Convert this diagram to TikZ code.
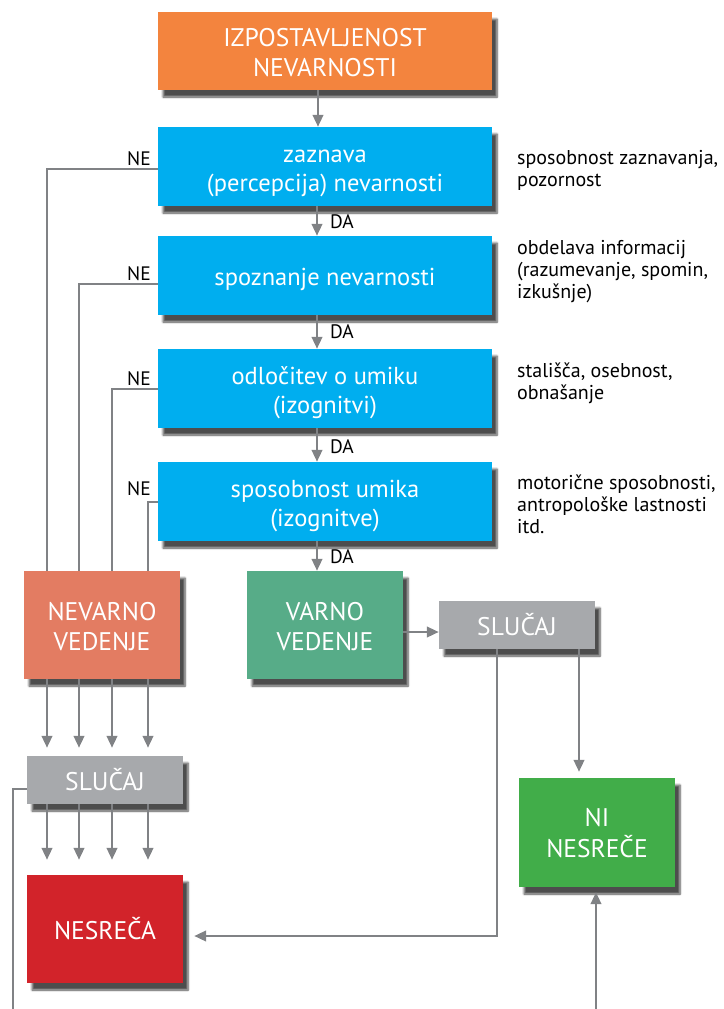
\documentclass[tikz,border=0pt]{standalone}
\usepackage{fontspec}
\setmainfont{PT Sans}
\usetikzlibrary{arrows.meta,shadows.blur}
\definecolor{cOrange}{HTML}{F3843E}
\definecolor{cBlue}{HTML}{00AEEF}
\definecolor{cSalmon}{HTML}{E37C62}
\definecolor{cTeal}{HTML}{57AC88}
\definecolor{cGrayBox}{HTML}{A7A9AC}
\definecolor{cRed}{HTML}{D2232A}
\definecolor{cGreen}{HTML}{41AD49}
\definecolor{cLine}{HTML}{808285}
% text blocks with fixed height/depth so baselines sit where the reference has them
\newcommand\boxtwo[1]{\raisebox{0pt}[56pt][6pt]{\begin{tabular}[b]{@{}c@{}}#1\end{tabular}}}
\newcommand\boxone[1]{\raisebox{0pt}[26pt][6pt]{#1}}
\begin{document}
\begin{tikzpicture}[x=1pt,y=-1pt,
  box/.style={rectangle, inner sep=0pt, text=white,
    font=\fontsize{25.5}{30}\selectfont,
    blur shadow={shadow xshift=5pt, shadow yshift=-7pt, shadow blur steps=6, shadow opacity=70}},
  widebox/.style={box, minimum width=334pt, minimum height=79pt},
  bluebox/.style={widebox, fill=cBlue, font=\fontsize{24.5}{29.5}\selectfont},
  smallbox/.style={box, minimum width=156pt},
  conn/.style={draw=cLine, line width=2.5pt},
  arr/.style={conn, -{Triangle[length=12pt,width=10.5pt]}},
  lbl/.style={font=\fontsize{19.5}{22}\selectfont, inner sep=0pt},
  side/.style={font=\fontsize{20}{22}\selectfont, inner sep=0pt, anchor=west, align=left}]
\useasboundingbox (0,0) rectangle (723,1009);

% boxes
\node[widebox, fill=cOrange, minimum height=78pt] (b0) at (325,51) {\boxtwo{IZPOSTAVLJENOST\\NEVARNOSTI}};
\node[bluebox] (b1) at (325,166.5) {\boxtwo{zaznava\\(percepcija) nevarnosti}};
\node[bluebox] (b2) at (325,275.5) {\boxone{spoznanje nevarnosti}};
\node[bluebox] (b3) at (325,388.5) {\boxtwo{odločitev o umiku\\(izognitvi)}};
\node[bluebox] (b4) at (325,501.5) {\boxtwo{sposobnost umika\\(izognitve)}};

\node[smallbox, fill=cSalmon, minimum height=108pt] (nev) at (102,625) {\boxtwo{NEVARNO\\VEDENJE}};
\node[smallbox, fill=cTeal, minimum height=108pt] (var) at (325,625) {\boxtwo{VARNO\\VEDENJE}};
\node[smallbox, fill=cGrayBox, minimum height=48pt] (slR) at (517,625) {\boxone{SLUČAJ}};
\node[smallbox, fill=cGrayBox, minimum height=48pt] (slL) at (105,780) {\boxone{SLUČAJ}};
\node[smallbox, fill=cRed, minimum height=108pt] (nes) at (105,929) {\boxone{NESREČA}};
\node[smallbox, fill=cGreen, minimum height=109pt] (ni) at (597,832.5) {\boxtwo{NI\\NESREČE}};

% side texts
\node[side] (s1) at (517,170) {sposobnost zaznavanja,\\pozornost};
\node[side] (s2) at (517,272) {obdelava informacij\\(razumevanje, spomin,\\izkušnje)};
\node[side] (s3) at (517,383) {stališča, osebnost,\\obnašanje};
\node[side] (s4) at (517,504) {motorične sposobnosti,\\antropološke lastnosti\\itd.};

% DA arrows
\draw[arr] ([xshift=-7pt]b0.south) -- ([xshift=-7pt]b0.south |- b1.north);
\draw[arr] ([xshift=-8pt]b1.south) -- ([xshift=-8pt]b1.south |- b2.north);
\draw[arr] ([xshift=-8pt]b2.south) -- ([xshift=-8pt]b2.south |- b3.north);
\draw[arr] ([xshift=-8pt]b3.south) -- ([xshift=-8pt]b3.south |- b4.north);
\draw[arr] ([xshift=-8pt]b4.south) -- ([xshift=-8pt]b4.south |- var.north);
\node[lbl, anchor=west] (da1) at (330,222) {DA};
\node[lbl, anchor=west] (da2) at (330,332) {DA};
\node[lbl, anchor=west] (da3) at (330,447) {DA};
\node[lbl, anchor=west] (da4) at (330,557) {DA};

% NE lines
\draw[conn] ([yshift=-2.5pt]b1.west) -| ([xshift=-55pt]nev.north);
\draw[conn] ([yshift=-8.5pt]b2.west) -| ([xshift=-23pt]nev.north);
\draw[conn] ([yshift=-0.5pt]b3.west) -| ([xshift=10pt]nev.north);
\draw[conn] ([yshift=-0.5pt]b4.west) -| ([xshift=46pt]nev.north);
\node[lbl, anchor=east] (ne1) at (151,159) {NE};
\node[lbl, anchor=east] (ne2) at (151,274) {NE};
\node[lbl, anchor=east] (ne3) at (151,379) {NE};
\node[lbl, anchor=east] (ne4) at (151,489) {NE};

% nevarno -> slucaj -> nesreca
\foreach \dx in {-55,-23,10,46}{
  \draw[arr, shorten >=8pt] ([xshift=\dx pt]nev.south) -- ([xshift=\dx pt]nev.south |- slL.north);
  \draw[arr, shorten >=15pt] ([xshift=\dx pt]nev.south |- slL.south) -- ([xshift=\dx pt]nev.south |- nes.north);
}

% varno -> slucaj
\draw[arr] ([yshift=-7pt]var.east) -- ([yshift=-7pt]var.east -| slR.west);
% slucaj -> nesreca
\draw[arr, shorten >=11pt] ([xshift=-20pt]slR.south) |- ([yshift=-7pt]nes.east);
% slucaj -> ni nesrece
\draw[arr, shorten >=6pt] ([xshift=62pt]slR.south) -- ([xshift=62pt]slR.south |- ni.north);
% from bottom up to ni nesrece
\coordinate (botR) at (596,1009);
\draw[arr, shorten >=5pt] (botR) -- (botR |- ni.south);
% left loop from slucaj down
\coordinate (botL) at (13,1009);
\draw[conn] ([yshift=-9pt]slL.west) -| (botL);
\end{tikzpicture}
\end{document}
